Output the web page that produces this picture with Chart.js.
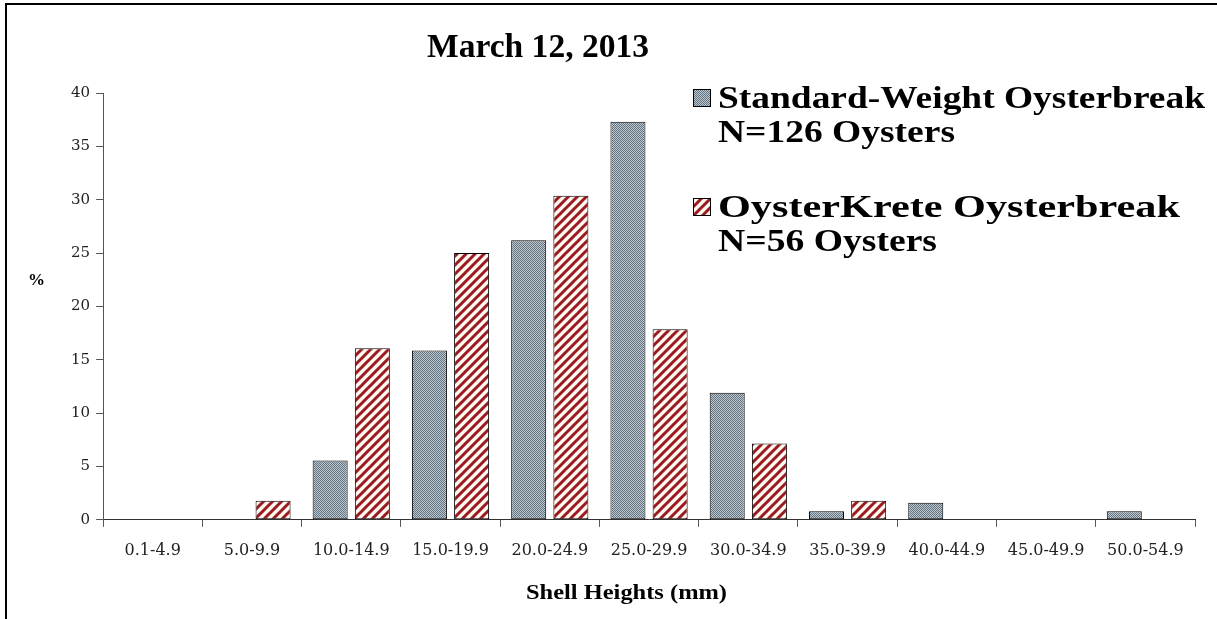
<!DOCTYPE html>
<html>
<head>
<meta charset="utf-8">
<script src="https://cdn.jsdelivr.net/npm/chart.js@4"></script>
<style>
  html, body { margin: 0; padding: 0; background: #fff; }
  #wrap { position: relative; width: 1217px; height: 619px; }
  #frame { position: absolute; left: 5px; top: 3px; right: 0; bottom: 0;
           border-left: 2px solid #000; border-top: 2px solid #000; pointer-events: none; }
  canvas { display: block; }
</style>
</head>
<body>
<div id="wrap">
  <canvas id="chart" width="1217" height="619"></canvas>
  <div id="frame"></div>
</div>
<script>
document.addEventListener('DOMContentLoaded', function() {
    // Data
    const categories = ['0.1-4.9', '5.0-9.9', '10.0-14.9', '15.0-19.9', '20.0-24.9', '25.0-29.9',
                        '30.0-34.9', '35.0-39.9', '40.0-44.9', '45.0-49.9', '50.0-54.9'];
    const standardWeight = [0, 0, 5.56, 15.87, 26.19, 37.3, 11.9, 0.79, 1.59, 0, 0.79];
    const oysterKrete = [0, 1.79, 16.07, 25.0, 30.36, 17.86, 7.14, 1.79, 0, 0, 0];
    const yTicks = [0, 5, 10, 15, 20, 25, 30, 35, 40];
    const legendLines = [
        ['Standard-Weight Oysterbreak', 'N=126 Oysters'],
        ['OysterKrete Oysterbreak', 'N=56 Oysters']
    ];

    const serif = '"Liberation Serif", "Times New Roman", serif';
    const tickFont = '"DejaVu Serif", serif';

    // Fill patterns
    function dotPattern() {
        const c = document.createElement('canvas');
        c.width = 2; c.height = 2;
        const g = c.getContext('2d');
        g.fillStyle = '#bcc7cf';
        g.fillRect(0, 0, 2, 2);
        g.fillStyle = '#63737f';
        g.fillRect(0, 0, 1, 1);
        g.fillRect(1, 1, 1, 1);
        return g.createPattern(c, 'repeat');
    }

    function stripePattern() {
        const s = 9;
        const c = document.createElement('canvas');
        c.width = s; c.height = s;
        const g = c.getContext('2d');
        g.fillStyle = '#fff8f0';
        g.fillRect(0, 0, s, s);
        g.strokeStyle = '#9a1a1f';
        g.lineWidth = 3;
        g.beginPath();
        g.moveTo(-1, s + 1); g.lineTo(s + 1, -1);
        g.moveTo(-1, 1); g.lineTo(1, -1);
        g.moveTo(s - 1, s + 1); g.lineTo(s + 1, s - 1);
        g.stroke();
        return g.createPattern(c, 'repeat');
    }

    const fills = [dotPattern(), stripePattern()];

    // text drawn stretched to a given width
    function wideText(ctx, text, x, y, width) {
        const w = ctx.measureText(text).width;
        ctx.save();
        ctx.translate(x, y);
        ctx.scale(width / w, 1);
        ctx.fillText(text, 0, 0);
        ctx.restore();
    }

    // Title, legend and axis labels drawn on the canvas
    const decorations = {
        id: 'decorations',
        afterDraw(chart) {
            const ctx = chart.ctx;
            ctx.save();
            ctx.fillStyle = '#000';
            ctx.textBaseline = 'alphabetic';
            ctx.textAlign = 'left';

            ctx.font = 'bold 33px ' + serif;
            wideText(ctx, 'March 12, 2013', 427, 57, 222);

            ctx.font = 'bold 22px ' + serif;
            wideText(ctx, 'Shell Heights (mm)', 526, 599, 201);

            ctx.font = 'bold 17px ' + serif;
            ctx.fillText('%', 28, 285);

            // legend
            ctx.font = 'bold 32px ' + serif;
            const tops = [89, 198];
            const widths = [[487, 237], [462, 219]];
            legendLines.forEach(function(lines, i) {
                const y = tops[i];
                ctx.fillStyle = fills[i];
                ctx.fillRect(693, y, 18, 18);
                ctx.strokeStyle = '#000';
                ctx.lineWidth = 1;
                ctx.strokeRect(693.5, y + 0.5, 17, 17);
                ctx.fillStyle = '#000';
                lines.forEach(function(line, k) {
                    wideText(ctx, line, 718, y + 19 + k * 34, widths[i][k]);
                });
            });
            ctx.restore();
        }
    };

    const ctx = document.getElementById('chart').getContext('2d');
    new Chart(ctx, {
        type: 'bar',
        data: {
            labels: categories,
            datasets: [{
                label: legendLines[0].join(' '),
                data: standardWeight,
                backgroundColor: fills[0],
                borderColor: '#000',
                borderWidth: 1,
                borderSkipped: false,
                categoryPercentage: 0.85,
                barPercentage: 0.83
            }, {
                label: legendLines[1].join(' '),
                data: oysterKrete,
                backgroundColor: fills[1],
                borderColor: '#000',
                borderWidth: 1,
                borderSkipped: false,
                categoryPercentage: 0.85,
                barPercentage: 0.83
            }]
        },
        options: {
            responsive: false,
            animation: false,
            layout: { padding: { left: 65, right: 22, top: 93, bottom: 45 } },
            plugins: {
                legend: { display: false },
                tooltip: { enabled: false }
            },
            scales: {
                x: {
                    grid: {
                        offset: true,
                        drawOnChartArea: false,
                        drawTicks: true,
                        tickLength: 7,
                        color: '#555'
                    },
                    border: { color: '#333', width: 1 },
                    ticks: {
                        color: '#222',
                        font: { family: tickFont, size: 16 },
                        maxRotation: 0,
                        autoSkip: false,
                        padding: 14
                    }
                },
                y: {
                    min: 0,
                    max: 40,
                    afterBuildTicks(axis) {
                        axis.ticks = yTicks.map(v => ({ value: v }));
                    },
                    grid: {
                        drawOnChartArea: false,
                        drawTicks: true,
                        tickLength: 7,
                        color: '#555'
                    },
                    border: { color: '#555', width: 1 },
                    ticks: {
                        color: '#222',
                        font: { family: tickFont, size: 15 },
                        padding: 6
                    }
                }
            }
        },
        plugins: [decorations]
    });
});
</script>
</body>
</html>
